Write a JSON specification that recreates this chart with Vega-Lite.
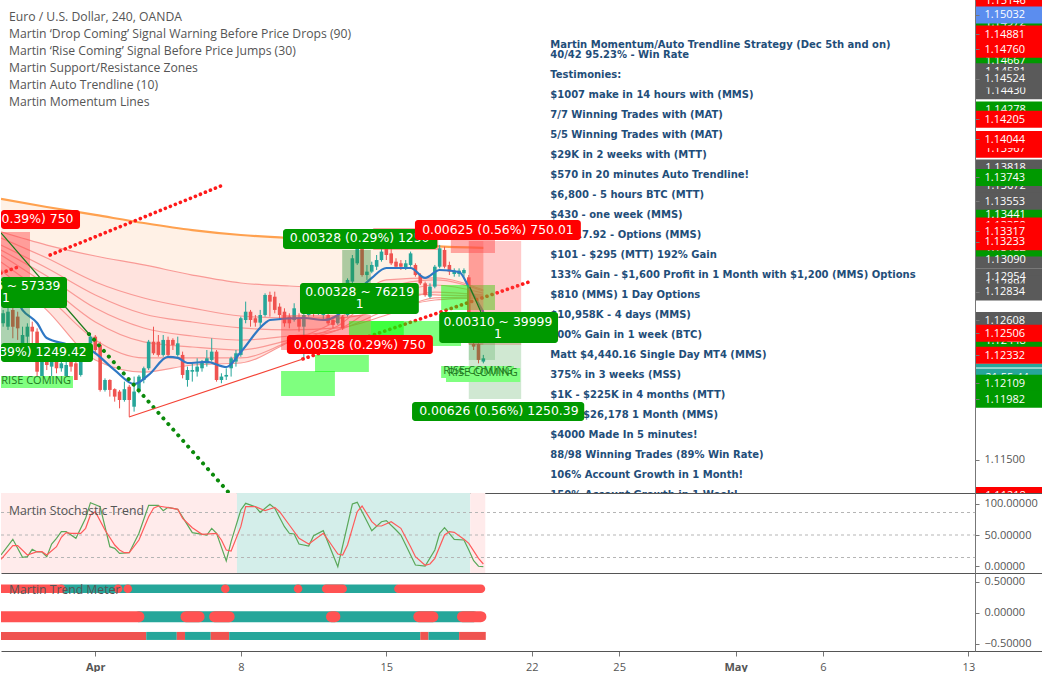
{
"$schema":"https://vega.github.io/schema/vega-lite/v6.json",
"background":"white","padding":0,"spacing":0,"bounds":"flush",
"config":{"view":{"stroke":null},"text":{"font":"Open Sans"},"axis":{"labelFont":"Open Sans","labelFontSize":11,"labelColor":"#555"}},
"datasets":{
"candles":[
{"b":-19,"d":"u","o":1.12585,"c":1.12664,"h":1.12691,"l":1.12558},{"b":-18,"d":"u","o":1.12558,"c":1.12677,"h":1.12717,"l":1.12532},{"b":-17,"d":"d","o":1.12691,"c":1.12558,"h":1.1273,"l":1.12466},{"b":-16,"d":"d","o":1.12638,"c":1.12545,"h":1.12677,"l":1.12453},{"b":-15,"d":"u","o":1.12426,"c":1.12492,"h":1.12558,"l":1.12281},{"b":-14,"d":"u","o":1.12479,"c":1.12558,"h":1.12585,"l":1.124},{"b":-13,"d":"d","o":1.12558,"c":1.12519,"h":1.12598,"l":1.12426},{"b":-12,"d":"d","o":1.12519,"c":1.12201,"h":1.12545,"l":1.12162},{"b":-11,"d":"u","o":1.12162,"c":1.12281,"h":1.1232,"l":1.12135},{"b":-10,"d":"d","o":1.12281,"c":1.12254,"h":1.1232,"l":1.12214},{"b":-9,"d":"u","o":1.12241,"c":1.12281,"h":1.1232,"l":1.12162},{"b":-8,"d":"d","o":1.12281,"c":1.12228,"h":1.12307,"l":1.12188},{"b":-7,"d":"u","o":1.12228,"c":1.12267,"h":1.12294,"l":1.12201},{"b":-6,"d":"u","o":1.12162,"c":1.12254,"h":1.12281,"l":1.12135},{"b":-5,"d":"d","o":1.12281,"c":1.12241,"h":1.1232,"l":1.12201},{"b":-4,"d":"d","o":1.12267,"c":1.12135,"h":1.12307,"l":1.12135},{"b":-3,"d":"u","o":1.12175,"c":1.1232,"h":1.12347,"l":1.12162},{"b":-2,"d":"u","o":1.1232,"c":1.12373,"h":1.124,"l":1.12281},{"b":-1,"d":"u","o":1.12426,"c":1.12479,"h":1.12505,"l":1.12373},{"b":0,"d":"d","o":1.12479,"c":1.12373,"h":1.12492,"l":1.12347},{"b":1,"d":"d","o":1.12413,"c":1.12056,"h":1.12439,"l":1.12043},{"b":2,"d":"u","o":1.12056,"c":1.12135,"h":1.12148,"l":1.12043},{"b":3,"d":"d","o":1.12135,"c":1.12056,"h":1.12141,"l":1.12003},{"b":4,"d":"d","o":1.12062,"c":1.12003,"h":1.12069,"l":1.11963},{"b":5,"d":"d","o":1.12043,"c":1.11976,"h":1.12056,"l":1.1191},{"b":6,"d":"u","o":1.11976,"c":1.12062,"h":1.12122,"l":1.11963},{"b":7,"d":"d","o":1.12082,"c":1.11976,"h":1.12096,"l":1.11844},{"b":8,"d":"u","o":1.11923,"c":1.12043,"h":1.12162,"l":1.11884},{"b":9,"d":"u","o":1.12043,"c":1.12162,"h":1.12175,"l":1.12029},{"b":10,"d":"u","o":1.12135,"c":1.12228,"h":1.12241,"l":1.12109},{"b":11,"d":"u","o":1.12228,"c":1.12439,"h":1.12453,"l":1.12214},{"b":12,"d":"d","o":1.12439,"c":1.12347,"h":1.12558,"l":1.12334},{"b":13,"d":"d","o":1.12439,"c":1.12334,"h":1.12492,"l":1.1232},{"b":14,"d":"u","o":1.12334,"c":1.12453,"h":1.12492,"l":1.1232},{"b":15,"d":"d","o":1.12453,"c":1.12334,"h":1.12479,"l":1.1232},{"b":16,"d":"d","o":1.12453,"c":1.12413,"h":1.12466,"l":1.12373},{"b":17,"d":"u","o":1.12334,"c":1.12426,"h":1.12479,"l":1.1232},{"b":18,"d":"d","o":1.12334,"c":1.12175,"h":1.1236,"l":1.12148},{"b":19,"d":"u","o":1.12135,"c":1.12214,"h":1.12241,"l":1.12082},{"b":20,"d":"u","o":1.12201,"c":1.12214,"h":1.12267,"l":1.12122},{"b":21,"d":"u","o":1.12201,"c":1.12241,"h":1.12307,"l":1.12162},{"b":22,"d":"u","o":1.12228,"c":1.12281,"h":1.12294,"l":1.12201},{"b":23,"d":"u","o":1.12267,"c":1.12307,"h":1.12373,"l":1.12241},{"b":24,"d":"u","o":1.12294,"c":1.1236,"h":1.12466,"l":1.12281},{"b":25,"d":"d","o":1.1236,"c":1.12135,"h":1.12373,"l":1.12122},{"b":26,"d":"u","o":1.12135,"c":1.12162,"h":1.12188,"l":1.12109},{"b":27,"d":"u","o":1.12162,"c":1.12175,"h":1.12228,"l":1.12135},{"b":28,"d":"u","o":1.12228,"c":1.12307,"h":1.1232,"l":1.12162},{"b":29,"d":"u","o":1.12281,"c":1.12347,"h":1.12373,"l":1.12241},{"b":30,"d":"u","o":1.12334,"c":1.12625,"h":1.12638,"l":1.1232},{"b":31,"d":"u","o":1.12611,"c":1.12677,"h":1.12757,"l":1.12585},{"b":32,"d":"d","o":1.12677,"c":1.12611,"h":1.12691,"l":1.12558},{"b":33,"d":"d","o":1.12625,"c":1.1259,"h":1.12651,"l":1.12558},{"b":34,"d":"u","o":1.1259,"c":1.12651,"h":1.12691,"l":1.12558},{"b":35,"d":"u","o":1.12651,"c":1.1281,"h":1.12823,"l":1.12638},{"b":36,"d":"d","o":1.1281,"c":1.12757,"h":1.12836,"l":1.12638},{"b":37,"d":"d","o":1.12796,"c":1.12691,"h":1.12836,"l":1.12664},{"b":38,"d":"d","o":1.12717,"c":1.12651,"h":1.12744,"l":1.12611},{"b":39,"d":"d","o":1.12677,"c":1.12585,"h":1.12704,"l":1.12558},{"b":40,"d":"d","o":1.12638,"c":1.12585,"h":1.12664,"l":1.12545},{"b":41,"d":"u","o":1.12611,"c":1.12704,"h":1.12744,"l":1.12598},{"b":42,"d":"d","o":1.12625,"c":1.12558,"h":1.12664,"l":1.12519},{"b":43,"d":"u","o":1.12558,"c":1.12651,"h":1.12677,"l":1.12294},{"b":44,"d":"u","o":1.12651,"c":1.12744,"h":1.12796,"l":1.12638},{"b":45,"d":"d","o":1.12744,"c":1.12664,"h":1.1277,"l":1.12638},{"b":46,"d":"u","o":1.12664,"c":1.1273,"h":1.12757,"l":1.12651},{"b":47,"d":"u","o":1.12651,"c":1.12691,"h":1.12717,"l":1.12611},{"b":48,"d":"d","o":1.12651,"c":1.12585,"h":1.12677,"l":1.12572},{"b":49,"d":"d","o":1.12611,"c":1.12572,"h":1.12638,"l":1.12545},{"b":50,"d":"u","o":1.12585,"c":1.12651,"h":1.12677,"l":1.12572},{"b":51,"d":"d","o":1.12638,"c":1.12545,"h":1.12651,"l":1.12532},{"b":52,"d":"u","o":1.12651,"c":1.12929,"h":1.12942,"l":1.12638},{"b":53,"d":"u","o":1.12916,"c":1.13101,"h":1.13127,"l":1.12902},{"b":54,"d":"u","o":1.13061,"c":1.1318,"h":1.13246,"l":1.13048},{"b":55,"d":"d","o":1.1318,"c":1.12968,"h":1.1322,"l":1.12955},{"b":56,"d":"u","o":1.12968,"c":1.12995,"h":1.13048,"l":1.12929},{"b":57,"d":"u","o":1.12995,"c":1.13048,"h":1.13074,"l":1.12982},{"b":58,"d":"u","o":1.13034,"c":1.13087,"h":1.13127,"l":1.13008},{"b":59,"d":"u","o":1.13087,"c":1.13154,"h":1.13233,"l":1.13074},{"b":60,"d":"d","o":1.1318,"c":1.13127,"h":1.1322,"l":1.13087},{"b":61,"d":"d","o":1.1314,"c":1.13061,"h":1.1318,"l":1.13048},{"b":62,"d":"d","o":1.13074,"c":1.13034,"h":1.13101,"l":1.13021},{"b":63,"d":"d","o":1.13061,"c":1.13034,"h":1.13087,"l":1.13008},{"b":64,"d":"u","o":1.13021,"c":1.13061,"h":1.13087,"l":1.13008},{"b":65,"d":"u","o":1.13048,"c":1.1314,"h":1.13154,"l":1.13034},{"b":66,"d":"d","o":1.13048,"c":1.12968,"h":1.13061,"l":1.12955},{"b":67,"d":"d","o":1.12968,"c":1.12902,"h":1.12982,"l":1.12889},{"b":68,"d":"d","o":1.12902,"c":1.1281,"h":1.12916,"l":1.12796},{"b":69,"d":"u","o":1.12796,"c":1.12876,"h":1.12902,"l":1.12783},{"b":70,"d":"u","o":1.12876,"c":1.13034,"h":1.13048,"l":1.12863},{"b":71,"d":"u","o":1.13034,"c":1.1318,"h":1.13207,"l":1.13021},{"b":72,"d":"d","o":1.13167,"c":1.13034,"h":1.13193,"l":1.13021},{"b":73,"d":"d","o":1.13048,"c":1.12995,"h":1.13074,"l":1.12968},{"b":74,"d":"u","o":1.12976,"c":1.13003,"h":1.13021,"l":1.12955},{"b":75,"d":"u","o":1.12976,"c":1.13003,"h":1.13021,"l":1.12955},{"b":76,"d":"u","o":1.12982,"c":1.13008,"h":1.13021,"l":1.12955},{"b":77,"d":"d","o":1.1295,"c":1.12439,"h":1.12968,"l":1.12426},{"b":78,"d":"d","o":1.12421,"c":1.124,"h":1.12439,"l":1.12373},{"b":79,"d":"d","o":1.12421,"c":1.12294,"h":1.12426,"l":1.12267},{"b":80,"d":"u","o":1.12281,"c":1.12307,"h":1.12334,"l":1.12267}],
"ribbon":[
{"b":-19.44,"e1":1.13572,"l2":1.1331,"l3":1.13262,"l4":1.13206,"l5":1.13167,"l6":1.13127,"l7":1.13071,"l8":1.13008},
{"b":-10,"e1":1.13508,"l2":1.13206,"l3":1.13103,"l4":1.13024,"l5":1.1296,"l6":1.12889,"l7":1.12802,"l8":1.1269},
{"b":0,"e1":1.13445,"l2":1.13119,"l3":1.12913,"l4":1.1281,"l5":1.12706,"l6":1.12595,"l7":1.12452,"l8":1.12294},
{"b":10,"e1":1.13381,"l2":1.13048,"l3":1.12786,"l4":1.12659,"l5":1.12548,"l6":1.12437,"l7":1.1231,"l8":1.12198},
{"b":20,"e1":1.13325,"l2":1.12968,"l3":1.12706,"l4":1.12595,"l5":1.12484,"l6":1.12397,"l7":1.1231,"l8":1.12254},
{"b":30,"e1":1.13286,"l2":1.12905,"l3":1.12643,"l4":1.12548,"l5":1.12452,"l6":1.12373,"l7":1.1231,"l8":1.1227},
{"b":40,"e1":1.13262,"l2":1.12881,"l3":1.12627,"l4":1.12532,"l5":1.12484,"l6":1.12452,"l7":1.12437,"l8":1.12437},
{"b":50,"e1":1.13246,"l2":1.12865,"l3":1.12627,"l4":1.12548,"l5":1.12532,"l6":1.12532,"l7":1.12564,"l8":1.12611},
{"b":60,"e1":1.13222,"l2":1.12833,"l3":1.1269,"l4":1.12651,"l5":1.1269,"l6":1.1277,"l7":1.12865,"l8":1.12929},
{"b":70,"e1":1.13198,"l2":1.1281,"l3":1.1277,"l4":1.12786,"l5":1.12833,"l6":1.12889,"l7":1.12929,"l8":1.12945},
{"b":80,"e1":1.13183,"l2":1.12802,"l3":1.12786,"l4":1.12794,"l5":1.1281,"l6":1.12825,"l7":1.12841,"l8":1.12849}],
"blue":[{"b":-19.44,"p":1.1277},{"b":-16,"p":1.12746},{"b":-15,"p":1.1269},{"b":-12,"p":1.12587},{"b":-10,"p":1.12468},{"b":-6,"p":1.12421},{"b":-1,"p":1.12373},{"b":4,"p":1.12214},{"b":8,"p":1.12103},{"b":11,"p":1.12175},{"b":15,"p":1.12318},{"b":17,"p":1.1231},{"b":19,"p":1.1227},{"b":23,"p":1.12278},{"b":27,"p":1.12238},{"b":30,"p":1.12357},{"b":35,"p":1.12587},{"b":36,"p":1.12611},{"b":43,"p":1.12627},{"b":47,"p":1.12611},{"b":50,"p":1.12651},{"b":52,"p":1.1273},{"b":54,"p":1.12833},{"b":57,"p":1.12945},{"b":60,"p":1.13024},{"b":65,"p":1.13024},{"b":68,"p":1.12945},{"b":71,"p":1.13008},{"b":75,"p":1.12992},{"b":77,"p":1.12873},{"b":80,"p":1.12675}],
"redDots":[{"s":"a","b":-19.44,"p":1.12984},{"s":"a","b":-15.9,"p":1.13032},{"s":"b","b":-9.3,"p":1.13127},{"s":"b","b":25.9,"p":1.13675},{"s":"c","b":42.8,"p":1.12302},{"s":"c","b":90,"p":1.12921}],
"greenDots":[{"s":"a","b":-1.3,"p":1.125},{"s":"a","b":27.4,"p":1.11246}],
"thin":[{"s":"g1","k":"g","b":-19.44,"p":1.13302},{"s":"g1","k":"g","b":-1.3,"p":1.125},{"s":"g2","k":"g","b":77.2,"p":1.12873},{"s":"g2","k":"g","b":79.5,"p":1.12675},{"s":"r1","k":"r","b":6.95,"p":1.11841},{"s":"r1","k":"r","b":42.8,"p":1.12302}],
"zones":[
{"x1":-19.44,"x2":-13.46,"y1":1.1331,"y2":1.12952,"k":"red"},
{"x1":-19.44,"x2":-13.46,"y1":1.12952,"y2":1.12413,"k":"green"},
{"x1":38.3,"x2":49.4,"y1":1.12206,"y2":1.12008,"k":"bright"},
{"x1":45.3,"x2":56.4,"y1":1.12333,"y2":1.12198,"k":"bright"},
{"x1":38.3,"x2":56.8,"y1":1.12651,"y2":1.12373,"k":"red"},
{"x1":52.3,"x2":63.6,"y1":1.12603,"y2":1.12405,"k":"bright"},
{"x1":56.8,"x2":75.4,"y1":1.12603,"y2":1.12405,"k":"bright"},
{"x1":57.3,"x2":70.7,"y1":1.13341,"y2":1.13167,"k":"red"},
{"x1":73.3,"x2":82.4,"y1":1.13246,"y2":1.13143,"k":"red"},
{"x1":50.9,"x2":56.8,"y1":1.13167,"y2":1.12905,"k":"green"},
{"x1":71.3,"x2":82.4,"y1":1.12889,"y2":1.1269,"k":"bright"},
{"x1":77,"x2":87.8,"y1":1.13238,"y2":1.12413,"k":"pale"},
{"x1":77,"x2":80,"y1":1.13238,"y2":1.12413,"k":"pale"},
{"x1":77,"x2":87.8,"y1":1.12452,"y2":1.11984,"k":"paleg"},
{"x1":77,"x2":82.4,"y1":1.12429,"y2":1.12294,"k":"paleg"}],
"rise":[{"x1":-19.44,"x2":-4.6,"y1":1.12167,"y2":1.12071},{"x1":71.3,"x2":86.3,"y1":1.12246,"y2":1.12151},{"x1":72.3,"x2":87.6,"y1":1.1223,"y2":1.12119}],
"riseText":[{"b":-12.2,"p":1.12127,"t":"RISE COMING"},{"b":78.9,"p":1.12206,"t":"RISE COMING"},{"b":79.9,"p":1.1219,"t":"RISE COMING"}],
"boxA":[{"x1":38.7,"x2":70.5,"y1":1.13333,"y2":1.13175,"k":"green"}],
"boxAText":[{"b":54.5,"p":1.13258,"t":"0.00328 (0.29%) 1250"}],
"boxes":[
{"x1":-19.44,"x2":-3.15,"y1":1.13484,"y2":1.13333,"k":"red"},
{"x1":-19.44,"x2":-5.83,"y1":1.12952,"y2":1.12706,"k":"green"},
{"x1":-19.44,"x2":-0.47,"y1":1.12429,"y2":1.12278,"k":"green"},
{"x1":65.9,"x2":100.1,"y1":1.13405,"y2":1.13246,"k":"red"},
{"x1":42.2,"x2":66.7,"y1":1.12905,"y2":1.12659,"k":"green"},
{"x1":39.5,"x2":69.6,"y1":1.12492,"y2":1.12341,"k":"red"},
{"x1":70.9,"x2":95.4,"y1":1.12675,"y2":1.12429,"k":"green"},
{"x1":65.3,"x2":100.8,"y1":1.1196,"y2":1.1181,"k":"green"}],
"boxText":[
{"b":-18.1,"p":1.13409,"t":"0.00428 (0.39%) 750"},
{"b":-18.4,"p":1.12881,"t":"0.00436 ~ 57339"},{"b":-18.4,"p":1.12786,"t":"1"},
{"b":-18.2,"p":1.12357,"t":"0.00437 (0.39%) 1249.42"},
{"b":83,"p":1.13325,"t":"0.00625 (0.56%) 750.01"},
{"b":54.5,"p":1.12833,"t":"0.00328 ~ 76219"},{"b":54.5,"p":1.12738,"t":"1"},
{"b":54.5,"p":1.12413,"t":"0.00328 (0.29%) 750"},
{"b":83,"p":1.12599,"t":"0.00310 ~ 39999"},{"b":83,"p":1.125,"t":"1"},
{"b":83.2,"p":1.11889,"t":"0.00626 (0.56%) 1250.39"}],
"legend":[{"b":-17.8,"p":1.15024,"t":"Euro / U.S. Dollar, 240, OANDA"},{"b":-17.8,"p":1.14889,"t":"Martin ‘Drop Coming’ Signal Warning Before Price Drops (90)"},{"b":-17.8,"p":1.14754,"t":"Martin ‘Rise Coming’ Signal Before Price Jumps (30)"},{"b":-17.8,"p":1.14619,"t":"Martin Support/Resistance Zones"},{"b":-17.8,"p":1.14484,"t":"Martin Auto Trendline (10)"},{"b":-17.8,"p":1.14349,"t":"Martin Momentum Lines"}],
"para":[{"p":1.14802,"t":"Martin Momentum/Auto Trendline Strategy (Dec 5th and on)"},{"p":1.14722,"t":"40/42 95.23% - Win Rate"},{"p":1.14564,"t":"Testimonies:"},{"p":1.14405,"t":"$1007 make in 14 hours with (MMS)"},{"p":1.14246,"t":"7/7 Winning Trades with (MAT)"},{"p":1.14087,"t":"5/5 Winning Trades with (MAT)"},{"p":1.13929,"t":"$29K in 2 weeks with (MTT)"},{"p":1.1377,"t":"$570 in 20 minutes Auto Trendline!"},{"p":1.13611,"t":"$6,800 - 5 hours BTC (MTT)"},{"p":1.13452,"t":"$430 - one week (MMS)"},{"p":1.13294,"t":"$1,017.92 - Options (MMS)"},{"p":1.13135,"t":"$101 - $295 (MTT) 192% Gain"},{"p":1.12976,"t":"133% Gain - $1,600 Profit in 1 Month with $1,200 (MMS) Options"},{"p":1.12818,"t":"$810 (MMS) 1 Day Options"},{"p":1.12659,"t":"$10,958K - 4 days (MMS)"},{"p":1.125,"t":"300% Gain in 1 week (BTC)"},{"p":1.12341,"t":"Matt $4,440.16 Single Day MT4 (MMS)"},{"p":1.12183,"t":"375% in 3 weeks (MSS)"},{"p":1.12024,"t":"$1K - $225K in 4 months (MTT)"},{"p":1.11865,"t":"$3K - $26,178 1 Month (MMS)"},{"p":1.11706,"t":"$4000 Made In 5 minutes!"},{"p":1.11548,"t":"88/98 Winning Trades (89% Win Rate)"},{"p":1.11389,"t":"106% Account Growth in 1 Month!"},{"p":1.1123,"t":"150% Account Growth in 1 Week!"}],
"tagsUnder":[{"p":1.15146,"k":"red"},{"p":1.14972,"k":"green"},{"p":1.14667,"k":"green"},{"p":1.14581,"k":"grey"},{"p":1.1443,"k":"grey"},{"p":1.14278,"k":"green"},{"p":1.13967,"k":"red"},{"p":1.13818,"k":"grey"},{"p":1.13672,"k":"grey"},{"p":1.13441,"k":"green"},{"p":1.13358,"k":"red"},{"p":1.1309,"k":"grey"},{"p":1.13182,"k":"green"},{"p":1.12954,"k":"grey"},{"p":1.12894,"k":"grey"},{"p":1.12448,"k":"green"},{"p":1.11218,"k":"red"}],
"tagsTeal":[{"p":1.12198,"k":"teal"}],
"clock":[{"p":1.12151,"t":"21:55:44"}],
"whiteLine":[{"p":1.1223}],
"tagsTop":[{"p":1.15032,"k":"blue"},{"p":1.14881,"k":"red"},{"p":1.1476,"k":"red"},{"p":1.14524,"k":"grey"},{"p":1.14205,"k":"red"},{"p":1.14044,"k":"red"},{"p":1.13743,"k":"green"},{"p":1.13553,"k":"grey"},{"p":1.13317,"k":"red"},{"p":1.13233,"k":"red"},{"p":1.12834,"k":"grey"},{"p":1.12608,"k":"grey"},{"p":1.12506,"k":"red"},{"p":1.12332,"k":"red"},{"p":1.12109,"k":"green"},{"p":1.11982,"k":"green"}],
"stochZones":[{"x1":-19.44,"x2":29.2,"k":"bear"},{"x1":29.2,"x2":77.3,"k":"bull"},{"x1":77.3,"x2":80.4,"k":"bear"}],
"stochLevels":[{"v":86},{"v":50},{"v":14}],
"stoch":[
{"s":"g","b":-19.44,"v":18},{"s":"g","b":-17,"v":43.1},{"s":"g","b":-15,"v":14.3},{"s":"g","b":-14,"v":15.3},{"s":"g","b":-13,"v":27.1},{"s":"g","b":-12,"v":22.8},{"s":"g","b":-11,"v":22.8},{"s":"g","b":-10,"v":15.3},{"s":"g","b":-9,"v":35.6},{"s":"g","b":-8,"v":44.7},{"s":"g","b":-7,"v":55.3},{"s":"g","b":-6,"v":55.3},{"s":"g","b":-4,"v":44.7},{"s":"g","b":-2,"v":76.7},{"s":"g","b":-1,"v":101.7},{"s":"g","b":1,"v":95.3},{"s":"g","b":3,"v":31.3},{"s":"g","b":4,"v":28.7},{"s":"g","b":5,"v":20.7},{"s":"g","b":7,"v":21.7},{"s":"g","b":9,"v":52.7},{"s":"g","b":11,"v":97.5},{"s":"g","b":13,"v":97.5},{"s":"g","b":14,"v":88.9},{"s":"g","b":15,"v":94.3},{"s":"g","b":17,"v":91.1},{"s":"g","b":20,"v":53.7},{"s":"g","b":23,"v":50},{"s":"g","b":24,"v":60.7},{"s":"g","b":25,"v":52.7},{"s":"g","b":27,"v":8.4},{"s":"g","b":28,"v":39.3},{"s":"g","b":30,"v":90},{"s":"g","b":31,"v":100.7},{"s":"g","b":33,"v":95.3},{"s":"g","b":34,"v":86.3},{"s":"g","b":36,"v":99.1},{"s":"g","b":37,"v":92.7},{"s":"g","b":39,"v":63.3},{"s":"g","b":40,"v":52.7},{"s":"g","b":41,"v":51.6},{"s":"g","b":42,"v":35.6},{"s":"g","b":44,"v":32.4},{"s":"g","b":45,"v":48.9},{"s":"g","b":47,"v":56.9},{"s":"g","b":50,"v":-0.7},{"s":"g","b":53,"v":99.6},{"s":"g","b":54,"v":102.3},{"s":"g","b":57,"v":56.9},{"s":"g","b":59,"v":71.3},{"s":"g","b":60,"v":72.9},{"s":"g","b":62,"v":58},{"s":"g","b":63,"v":50},{"s":"g","b":64,"v":34},{"s":"g","b":66,"v":2},{"s":"g","b":68,"v":0.4},{"s":"g","b":70,"v":26},{"s":"g","b":71,"v":52.7},{"s":"g","b":72,"v":61.7},{"s":"g","b":74,"v":43.1},{"s":"g","b":76,"v":42},{"s":"g","b":77,"v":26},{"s":"g","b":78,"v":8.9},{"s":"g","b":79,"v":0},{"s":"g","b":80,"v":-0.7},
{"s":"r","b":-19.44,"v":11.1},{"s":"r","b":-17,"v":32.9},{"s":"r","b":-16,"v":32.9},{"s":"r","b":-14,"v":18},{"s":"r","b":-12,"v":23.3},{"s":"r","b":-11,"v":23.3},{"s":"r","b":-10,"v":18},{"s":"r","b":-8,"v":31.3},{"s":"r","b":-7,"v":46.3},{"s":"r","b":-6,"v":53.7},{"s":"r","b":-5,"v":52.7},{"s":"r","b":-3,"v":52.7},{"s":"r","b":-2,"v":60.7},{"s":"r","b":-1,"v":82},{"s":"r","b":0,"v":87.3},{"s":"r","b":2,"v":58},{"s":"r","b":4,"v":34},{"s":"r","b":5,"v":26},{"s":"r","b":6,"v":21.7},{"s":"r","b":7,"v":21.7},{"s":"r","b":9,"v":42},{"s":"r","b":11,"v":79.3},{"s":"r","b":12,"v":92.7},{"s":"r","b":13,"v":96.4},{"s":"r","b":16,"v":92.7},{"s":"r","b":17,"v":91.1},{"s":"r","b":18,"v":76.7},{"s":"r","b":20,"v":61.7},{"s":"r","b":22,"v":51.1},{"s":"r","b":25,"v":52.7},{"s":"r","b":26,"v":42},{"s":"r","b":27,"v":26},{"s":"r","b":28,"v":24.4},{"s":"r","b":30,"v":63.3},{"s":"r","b":31,"v":95.3},{"s":"r","b":33,"v":95.3},{"s":"r","b":35,"v":88.9},{"s":"r","b":37,"v":94.3},{"s":"r","b":38,"v":87.3},{"s":"r","b":40,"v":66},{"s":"r","b":42,"v":44.7},{"s":"r","b":44,"v":35.6},{"s":"r","b":47,"v":52.7},{"s":"r","b":48,"v":42},{"s":"r","b":50,"v":19.6},{"s":"r","b":51,"v":18},{"s":"r","b":52,"v":34},{"s":"r","b":54,"v":87.3},{"s":"r","b":55,"v":96.4},{"s":"r","b":57,"v":71.3},{"s":"r","b":58,"v":64.4},{"s":"r","b":59,"v":64.4},{"s":"r","b":61,"v":71.3},{"s":"r","b":63,"v":60.7},{"s":"r","b":65,"v":31.3},{"s":"r","b":66,"v":15.3},{"s":"r","b":68,"v":1.5},{"s":"r","b":69,"v":3.6},{"s":"r","b":70,"v":12.7},{"s":"r","b":72,"v":50},{"s":"r","b":73,"v":55.3},{"s":"r","b":74,"v":54.3},{"s":"r","b":76,"v":43.1},{"s":"r","b":77,"v":36.7},{"s":"r","b":79,"v":12.7},{"s":"r","b":80,"v":3.6}],
"meterRound1":[{"a":-7,"z":62,"st":"t","v":0.39},{"a":-19.44,"z":-7,"st":"r","v":0.39},{"a":4.7,"z":4.7,"st":"r","v":0.39},{"a":6.7,"z":6.7,"st":"r","v":0.39},{"a":26.8,"z":26.8,"st":"r","v":0.39},{"a":41.8,"z":41.8,"st":"r","v":0.39},{"a":47.6,"z":51,"st":"r","v":0.39},{"a":62.5,"z":79.5,"st":"r","v":0.39}],
"meterRound2":[{"a":9,"z":78,"st":"t","v":-0.06},{"a":-19.44,"z":9,"st":"r","v":-0.06},{"a":18.7,"z":21.4,"st":"r","v":-0.06},{"a":24.6,"z":27.6,"st":"r","v":-0.06},{"a":48.7,"z":49.4,"st":"r","v":-0.06},{"a":66.7,"z":69.6,"st":"r","v":-0.06},{"a":75.7,"z":79.5,"st":"r","v":-0.06}],
"meterFlat":[{"a":-19.44,"z":10.5,"st":"r","v":-0.37},{"a":10.5,"z":16.8,"st":"t","v":-0.37},{"a":16.8,"z":18.5,"st":"r","v":-0.37},{"a":18.5,"z":23.8,"st":"t","v":-0.37},{"a":23.8,"z":27.6,"st":"r","v":-0.37},{"a":27.6,"z":67,"st":"t","v":-0.37},{"a":67,"z":68.7,"st":"r","v":-0.37},{"a":68.7,"z":75,"st":"t","v":-0.37},{"a":75,"z":80.5,"st":"r","v":-0.37}]
},
"vconcat":[
{"width":1042,"height":493,"resolve":{"scale":{"color":"independent"}},"layer":[
{"data":{"name":"ribbon"},"mark":{"type":"area","color":"#fff1e6","interpolate":"monotone","clip":true},
 "encoding":{"x":{"field":"b","type":"quantitative","scale":{"domain":[-19.44,195.38],"nice":false,"zero":false,"padding":0},"axis":{"title":null,"labels":false,"ticks":false,"grid":false,"domain":true,"domainColor":"#555","orient":"bottom"}},
 "y":{"field":"e1","type":"quantitative","scale":{"domain":[1.11238,1.15151],"nice":false,"zero":false,"padding":0},"axis":{"title":null,"orient":"right","offset":-68,"grid":false,"tickCount":50,"values":[1.15032,1.14881,1.1476,1.14524,1.14205,1.14044,1.13743,1.13553,1.13317,1.13233,1.12834,1.12608,1.12506,1.12332,1.12109,1.11982,1.115],"format":".5f","labelOverlap":false,"labelFlush":false,"labelBound":false,"tickSize":4,"tickColor":"#777","domainColor":"#777","labelPadding":5,"labelFontSize":11,"labelColor":{"expr":"datum.value === 1.115 ? '#555555' : '#ffffff'"},"zindex":1}},
 "y2":{"field":"l2"}}},
{"data":{"name":"ribbon"},"mark":{"type":"area","color":"#ffe3de","interpolate":"monotone","clip":true},
 "encoding":{"x":{"field":"b","type":"quantitative"},"y":{"field":"l2","type":"quantitative"},"y2":{"field":"l8"}}},
{"data":{"name":"ribbon"},"transform":[{"fold":["l2","l3","l4","l5","l6","l7","l8"],"as":["line","price"]}],"mark":{"type":"line","color":"#f99a96","strokeWidth":1.2,"interpolate":"monotone","clip":true},
 "encoding":{"x":{"field":"b","type":"quantitative"},"y":{"field":"price","type":"quantitative"},"detail":{"field":"line"}}},
{"data":{"name":"ribbon"},"mark":{"type":"line","color":"#ffa14f","strokeWidth":2.2,"interpolate":"monotone","clip":true},
 "encoding":{"x":{"field":"b","type":"quantitative"},"y":{"field":"e1","type":"quantitative"}}},
{"data":{"name":"candles"},"mark":{"type":"rule","strokeWidth":1,"clip":true},
 "encoding":{"x":{"field":"b","type":"quantitative"},"y":{"field":"l","type":"quantitative"},"y2":{"field":"h"},"color":{"field":"d","type":"nominal","legend":null,"scale":{"domain":["u","d"],"range":["#26a69a","#ef5350"]}}}},
{"data":{"name":"candles"},"mark":{"type":"bar","size":3.6,"orient":"vertical","clip":true},
 "encoding":{"x":{"field":"b","type":"quantitative","scale":{"padding":0}},"y":{"field":"o","type":"quantitative"},"y2":{"field":"c"},"color":{"field":"d","type":"nominal","legend":null,"scale":{"domain":["u","d"],"range":["#26a69a","#ef5350"]}}}},
{"data":{"name":"blue"},"mark":{"type":"line","color":"#2f78c4","strokeWidth":2.2,"interpolate":"monotone","clip":true},
 "encoding":{"x":{"field":"b","type":"quantitative"},"y":{"field":"p","type":"quantitative"}}},
{"data":{"name":"redDots"},"mark":{"type":"line","color":"#ff1a1a","strokeWidth":3.6,"strokeCap":"round","strokeDash":[0.1,5.3],"clip":true},
 "encoding":{"x":{"field":"b","type":"quantitative"},"y":{"field":"p","type":"quantitative"},"detail":{"field":"s"}}},
{"data":{"name":"greenDots"},"mark":{"type":"line","color":"#0b8a0b","strokeWidth":4,"strokeCap":"round","strokeDash":[0.1,7.4],"clip":true},
 "encoding":{"x":{"field":"b","type":"quantitative"},"y":{"field":"p","type":"quantitative"},"detail":{"field":"s"}}},
{"data":{"name":"zones"},"mark":{"type":"rect","clip":true},
 "encoding":{"x":{"field":"x1","type":"quantitative"},"x2":{"field":"x2"},"y":{"field":"y1","type":"quantitative"},"y2":{"field":"y2"},"color":{"field":"k","type":"nominal","legend":null,"scale":{"domain":["red","green","bright","pale","paleg"],"range":["rgba(255,70,70,0.45)","rgba(40,140,50,0.38)","rgba(0,255,0,0.5)","rgba(255,80,80,0.3)","rgba(40,150,50,0.22)"]}}}},
{"data":{"name":"thin"},"mark":{"type":"line","strokeWidth":1.2,"clip":true},
 "encoding":{"x":{"field":"b","type":"quantitative"},"y":{"field":"p","type":"quantitative"},"detail":{"field":"s"},"color":{"field":"k","type":"nominal","legend":null,"scale":{"domain":["g","r"],"range":["#1a7a1a","#f44336"]}}}},
{"data":{"name":"para"},"mark":{"type":"text","align":"left","baseline":"middle","dy":1,"font":"DejaVu Sans","fontWeight":"bold","fontSize":10,"color":"#1f4e79","clip":true},
 "encoding":{"x":{"datum":93.8,"type":"quantitative"},"y":{"field":"p","type":"quantitative"},"text":{"field":"t"}}},
{"data":{"name":"legend"},"mark":{"type":"text","align":"left","baseline":"middle","dy":1,"fontSize":12.2,"color":"#555555","clip":true},
 "encoding":{"x":{"field":"b","type":"quantitative"},"y":{"field":"p","type":"quantitative"},"text":{"field":"t"}}},
{"data":{"name":"rise"},"mark":{"type":"rect","color":"#80ff80","clip":true},
 "encoding":{"x":{"field":"x1","type":"quantitative"},"x2":{"field":"x2"},"y":{"field":"y1","type":"quantitative"},"y2":{"field":"y2"}}},
{"data":{"name":"riseText"},"mark":{"type":"text","align":"center","baseline":"middle","fontSize":11,"color":"#1f7a1f","clip":true},
 "encoding":{"x":{"field":"b","type":"quantitative"},"y":{"field":"p","type":"quantitative"},"text":{"field":"t"}}},
{"data":{"name":"boxA"},"mark":{"type":"rect","cornerRadius":3,"clip":true,"color":"#009900"},
 "encoding":{"x":{"field":"x1","type":"quantitative"},"x2":{"field":"x2"},"y":{"field":"y1","type":"quantitative"},"y2":{"field":"y2"}}},
{"data":{"name":"boxAText"},"mark":{"type":"text","align":"center","baseline":"middle","font":"DejaVu Sans","fontSize":12.4,"color":"#ffffff","clip":true},
 "encoding":{"x":{"field":"b","type":"quantitative"},"y":{"field":"p","type":"quantitative"},"text":{"field":"t"}}},
{"data":{"name":"boxes"},"mark":{"type":"rect","cornerRadius":3,"clip":true},
 "encoding":{"x":{"field":"x1","type":"quantitative"},"x2":{"field":"x2"},"y":{"field":"y1","type":"quantitative"},"y2":{"field":"y2"},"color":{"field":"k","type":"nominal","legend":null,"scale":{"domain":["red","green"],"range":["#ff0000","#009900"]}}}},
{"data":{"name":"boxText"},"mark":{"type":"text","align":"center","baseline":"middle","font":"DejaVu Sans","fontSize":12.4,"color":"#ffffff","clip":true},
 "encoding":{"x":{"field":"b","type":"quantitative"},"y":{"field":"p","type":"quantitative"},"text":{"field":"t"}}},
{"data":{"name":"tagsTeal"},"mark":{"type":"rule","strokeWidth":17,"strokeCap":"butt","color":"#26a69a"},
 "encoding":{"x":{"datum":181.4,"type":"quantitative"},"x2":{"datum":195.38},"y":{"field":"p","type":"quantitative"}}},
{"data":{"name":"whiteLine"},"mark":{"type":"rule","strokeWidth":1,"color":"#ffffff"},
 "encoding":{"x":{"datum":181.4,"type":"quantitative"},"x2":{"datum":195.38},"y":{"field":"p","type":"quantitative"}}},
{"data":{"name":"clock"},"mark":{"type":"text","align":"left","baseline":"middle","fontSize":11,"color":"#ffffff","dx":10},
 "encoding":{"x":{"datum":181.4,"type":"quantitative"},"y":{"field":"p","type":"quantitative"},"text":{"field":"t"}}},
{"data":{"name":"tagsUnder"},"mark":{"type":"rule","strokeWidth":17,"strokeCap":"butt","clip":true},
 "encoding":{"x":{"datum":181.4,"type":"quantitative"},"x2":{"datum":195.38},"y":{"field":"p","type":"quantitative"},"color":{"field":"k","type":"nominal","legend":null,"scale":{"domain":["red","green","grey"],"range":["#ff0000","#009900","#5a5a5a"]}}}},
{"data":{"name":"tagsUnder"},"mark":{"type":"text","align":"left","baseline":"middle","fontSize":11,"color":"#ffffff","dx":10,"clip":true},
 "encoding":{"x":{"datum":181.4,"type":"quantitative"},"y":{"field":"p","type":"quantitative"},"text":{"field":"p","type":"quantitative","format":".5f"}}},
{"data":{"name":"tagsTop"},"mark":{"type":"rule","strokeWidth":17,"strokeCap":"butt","clip":true},
 "encoding":{"x":{"datum":181.4,"type":"quantitative"},"x2":{"datum":195.38},"y":{"field":"p","type":"quantitative"},"color":{"field":"k","type":"nominal","legend":null,"scale":{"domain":["red","green","grey","blue"],"range":["#ff0000","#009900","#5a5a5a","#5b8def"]}}}}
]},
{"width":1042,"height":80,"resolve":{"scale":{"color":"independent"}},"layer":[
{"data":{"name":"stochZones"},"mark":{"type":"rect"},
 "encoding":{"x":{"field":"x1","type":"quantitative","scale":{"domain":[-19.44,195.38],"nice":false,"zero":false,"padding":0},"axis":{"title":null,"labels":false,"ticks":false,"grid":false,"domain":true,"domainColor":"#555","orient":"bottom"}},"x2":{"field":"x2"},
 "y":{"datum":-10.8,"type":"quantitative","scale":{"domain":[-10.8,117.2],"nice":false,"zero":false},"axis":{"title":null,"orient":"right","offset":-68,"grid":false,"tickCount":10,"values":[100,50,0],"format":".5f","tickSize":4,"tickColor":"#777","domainColor":"#777","labelPadding":5,"labelFontSize":11,"labelColor":"#555"}},"y2":{"datum":117.2},
 "color":{"field":"k","type":"nominal","legend":null,"scale":{"domain":["bear","bull"],"range":["#ffebeb","#d4eeea"]}}}},
{"data":{"name":"stochLevels"},"mark":{"type":"rule","color":"#b5b5b5","strokeDash":[3,3],"strokeWidth":1},
 "encoding":{"x":{"datum":-19.44,"type":"quantitative"},"x2":{"datum":181.4},"y":{"field":"v","type":"quantitative"}}},
{"data":{"name":"stoch"},"mark":{"type":"line","strokeWidth":1.2,"clip":true},
 "encoding":{"x":{"field":"b","type":"quantitative"},"y":{"field":"v","type":"quantitative"},"color":{"field":"s","type":"nominal","legend":null,"scale":{"domain":["g","r"],"range":["#5aa85a","#ff5a5a"]}}}},
{"data":{"values":[{"t":"Martin Stochastic Trend"}]},"mark":{"type":"text","align":"left","baseline":"middle","fontSize":12.2,"color":"#555555"},
 "encoding":{"x":{"datum":-17.8,"type":"quantitative"},"y":{"datum":88.4,"type":"quantitative"},"text":{"field":"t"}}}
]},
{"width":1042,"height":78,"resolve":{"scale":{"color":"independent"}},"layer":[
{"data":{"name":"meterRound1"},"mark":{"type":"rule","strokeWidth":8.6,"strokeCap":"round","clip":true},
 "encoding":{"x":{"field":"a","type":"quantitative","scale":{"domain":[-19.44,195.38],"nice":false,"zero":false,"padding":0},"axis":{"title":null,"grid":false,"tickCount":50,"values":[0,30,60,90,108,132,150,180],"labelExpr":"{'0':'Apr','30':'8','60':'15','90':'22','108':'25','132':'May','150':'6','180':'13'}[datum.value]","labelFontWeight":{"expr":"datum.value === 0 || datum.value === 132 ? 'bold' : 'normal'"},"labelFontSize":11,"labelColor":"#555","tickColor":"#777","tickSize":5,"domainColor":"#555","labelPadding":5}},"x2":{"field":"z"},
 "y":{"field":"v","type":"quantitative","scale":{"domain":[-0.613,0.645],"nice":false,"zero":false},"axis":{"title":null,"orient":"right","offset":-68,"grid":false,"tickCount":10,"values":[0.5,0,-0.5],"format":".5f","tickSize":4,"tickColor":"#777","domainColor":"#777","labelPadding":5,"labelFontSize":11,"labelColor":"#555"}},
 "color":{"field":"st","type":"nominal","legend":null,"scale":{"domain":["t","r"],"range":["#26a69a","#ff5252"]}}}},
{"data":{"name":"meterRound2"},"mark":{"type":"rule","strokeWidth":11,"strokeCap":"round","clip":true},
 "encoding":{"x":{"field":"a","type":"quantitative"},"x2":{"field":"z"},"y":{"field":"v","type":"quantitative"},"color":{"field":"st","type":"nominal","legend":null,"scale":{"domain":["t","r"],"range":["#26a69a","#ff5252"]}}}},
{"data":{"name":"meterFlat"},"mark":{"type":"rule","strokeWidth":8,"strokeCap":"butt","clip":true},
 "encoding":{"x":{"field":"a","type":"quantitative"},"x2":{"field":"z"},"y":{"field":"v","type":"quantitative"},"color":{"field":"st","type":"nominal","legend":null,"scale":{"domain":["t","r"],"range":["#26a69a","#ef5350"]}}}},
{"data":{"values":[{"t":"Martin Trend Meter"}]},"mark":{"type":"text","align":"left","baseline":"middle","fontSize":12.2,"color":"#555555"},
 "encoding":{"x":{"datum":-17.8,"type":"quantitative"},"y":{"datum":0.365,"type":"quantitative"},"text":{"field":"t"}}}
]}
]}
